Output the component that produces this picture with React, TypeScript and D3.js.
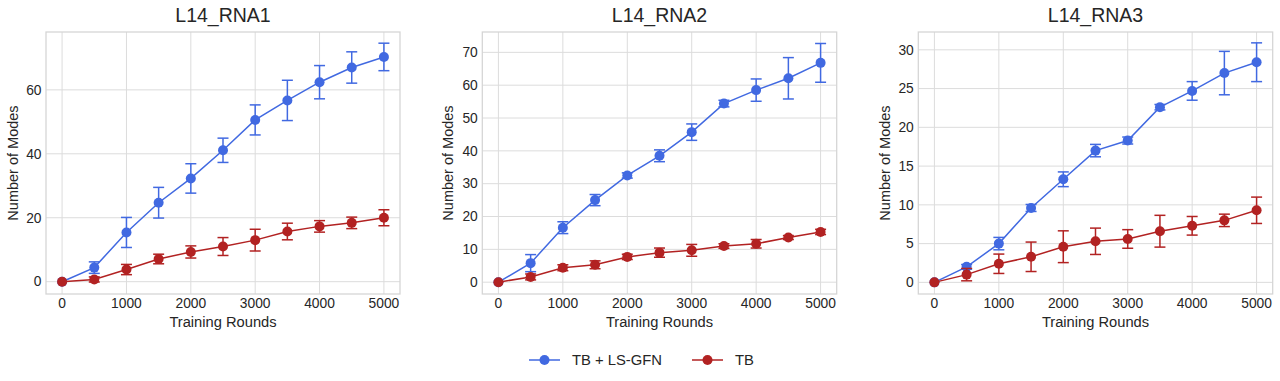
import React from "react";
import * as d3 from "d3";

const rounds = [0, 500, 1000, 1500, 2000, 2500, 3000, 3500, 4000, 4500, 5000];
const xTicks = [0, 1000, 2000, 3000, 4000, 5000];

const titles = ["L14_RNA1", "L14_RNA2", "L14_RNA3"];
const seriesNames = ["TB + LS-GFN", "TB"];
const seriesColors = ["#4169e1", "#b22222"];

// L14_RNA1
const rna1Ls = [0, 4.4, 15.4, 24.7, 32.3, 41.1, 50.6, 56.7, 62.4, 67.0, 70.3];
const rna1LsErr = [0, 1.8, 4.7, 4.8, 4.6, 3.8, 4.7, 6.3, 5.2, 4.9, 4.3];
const rna1Tb = [0, 0.7, 3.8, 7.1, 9.3, 11.0, 13.0, 15.7, 17.3, 18.4, 20.0];
const rna1TbErr = [0, 0.8, 1.6, 1.5, 1.9, 2.8, 3.4, 2.6, 1.8, 1.8, 2.5];
const rna1Ticks = [0, 20, 40, 60];

// L14_RNA2
const rna2Ls = [0, 5.8, 16.6, 25.0, 32.5, 38.5, 45.7, 54.4, 58.5, 62.1, 66.8];
const rna2LsErr = [0, 2.6, 1.8, 1.7, 0.8, 1.8, 2.5, 1.0, 3.4, 6.3, 5.9];
const rna2Tb = [0, 1.6, 4.4, 5.3, 7.7, 9.0, 9.7, 11.0, 11.7, 13.6, 15.3];
const rna2TbErr = [0, 0.9, 0.9, 1.2, 0.8, 1.4, 1.8, 0.7, 1.3, 0.6, 0.8];
const rna2Ticks = [0, 10, 20, 30, 40, 50, 60, 70];

// L14_RNA3
const rna3Ls = [0, 2.0, 5.0, 9.6, 13.3, 17.0, 18.3, 22.6, 24.7, 27.0, 28.4];
const rna3LsErr = [0, 0.3, 0.8, 0.45, 0.95, 0.8, 0.45, 0.35, 1.2, 2.8, 2.5];
const rna3Tb = [0, 1.0, 2.4, 3.3, 4.6, 5.3, 5.6, 6.6, 7.3, 8.0, 9.3];
const rna3TbErr = [0, 0.8, 1.25, 1.9, 2.05, 1.7, 1.2, 2.05, 1.2, 0.8, 1.7];
const rna3Ticks = [0, 5, 10, 15, 20, 25, 30];

const panels = [
  { title: titles[0], left: 46, right: 400, yDomain: [-3.85, 78.1], ticks: rna1Ticks, series: [[rna1Ls, rna1LsErr], [rna1Tb, rna1TbErr]], ylabelX: 18 },
  { title: titles[1], left: 482.3, right: 836.7, yDomain: [-3.6, 76.2], ticks: rna2Ticks, series: [[rna2Ls, rna2LsErr], [rna2Tb, rna2TbErr]], ylabelX: 453 },
  { title: titles[2], left: 918.3, right: 1272.7, yDomain: [-1.5, 32.3], ticks: rna3Ticks, series: [[rna3Ls, rna3LsErr], [rna3Tb, rna3TbErr]], ylabelX: 890 },
];

const TOP = 32;
const BOTTOM = 294;
const TEXT = "#262626";
const GRID = "#dcdcdc";
const FONT = "'Liberation Sans', Arial, sans-serif";

function Panel({ p }: { p: any }) {
  const x = d3.scaleLinear().domain([-250, 5250]).range([p.left, p.right]);
  const y = d3.scaleLinear().domain(p.yDomain).range([BOTTOM, TOP]);
  const line = d3
    .line<number>()
    .x((_, i) => x(rounds[i]))
    .y((d) => y(d));
  const cx = (p.left + p.right) / 2;
  return (
    <g>
      {xTicks.map((t) => (
        <line key={"gx" + t} x1={x(t)} x2={x(t)} y1={TOP} y2={BOTTOM} stroke={GRID} strokeWidth={1} />
      ))}
      {p.ticks.map((t: number) => (
        <line key={"gy" + t} x1={p.left} x2={p.right} y1={y(t)} y2={y(t)} stroke={GRID} strokeWidth={1} />
      ))}
      <rect x={p.left} y={TOP} width={p.right - p.left} height={BOTTOM - TOP} fill="none" stroke="#d4d4d4" strokeWidth={1.25} />
      {xTicks.map((t) => (
        <text key={"tx" + t} x={x(t)} y={308} textAnchor="middle" fontSize={13.8} fill={TEXT} fontFamily={FONT}>
          {t}
        </text>
      ))}
      {p.ticks.map((t: number) => (
        <text key={"ty" + t} x={p.left - 4.5} y={y(t) + 4.8} textAnchor="end" fontSize={13.8} fill={TEXT} fontFamily={FONT}>
          {t}
        </text>
      ))}
      <text x={cx} y={21.5} textAnchor="middle" fontSize={19.5} fill={TEXT} fontFamily={FONT}>
        {p.title}
      </text>
      <text x={cx} y={327} textAnchor="middle" fontSize={14.7} fill={TEXT} fontFamily={FONT}>
        Training Rounds
      </text>
      <text
        transform={`translate(${p.ylabelX},${(TOP + BOTTOM) / 2}) rotate(-90)`}
        textAnchor="middle"
        fontSize={14.5}
        fill={TEXT}
        fontFamily={FONT}
      >
        Number of Modes
      </text>
      {p.series.map((s: number[][], si: number) => {
        const [vals, errs] = s;
        const c = seriesColors[si];
        return (
          <g key={"s" + si}>
            {vals.map((v, i) =>
              errs[i] > 0 ? (
                <g key={"e" + i} stroke={c} strokeWidth={1.5}>
                  <line x1={x(rounds[i])} x2={x(rounds[i])} y1={y(v - errs[i])} y2={y(v + errs[i])} />
                  <line x1={x(rounds[i]) - 5.5} x2={x(rounds[i]) + 5.5} y1={y(v - errs[i])} y2={y(v - errs[i])} />
                  <line x1={x(rounds[i]) - 5.5} x2={x(rounds[i]) + 5.5} y1={y(v + errs[i])} y2={y(v + errs[i])} />
                </g>
              ) : null
            )}
            <path d={line(vals) || ""} fill="none" stroke={c} strokeWidth={1.5} />
            {vals.map((v, i) => (
              <circle key={"m" + i} cx={x(rounds[i])} cy={y(v)} r={5} fill={c} />
            ))}
          </g>
        );
      })}
    </g>
  );
}

export default function App() {
  const legendItems = [
    { x0: 529, name: seriesNames[0], color: seriesColors[0] },
    { x0: 692, name: seriesNames[1], color: seriesColors[1] },
  ];
  return (
    <svg width={1280} height={381} style={{ position: "absolute", left: 0, top: 0, background: "#fff" }}>
      <rect x={0} y={0} width={1280} height={381} fill="#fff" />
      {panels.map((p, i) => (
        <Panel key={i} p={p} />
      ))}
      {legendItems.map((it, i) => (
        <g key={"l" + i}>
          <line x1={it.x0} x2={it.x0 + 31} y1={360} y2={360} stroke={it.color} strokeWidth={1.5} />
          <circle cx={it.x0 + 15.5} cy={360} r={5} fill={it.color} />
          <text x={it.x0 + 43} y={365} fontSize={14.8} fill={TEXT} fontFamily={FONT}>
            {it.name}
          </text>
        </g>
      ))}
    </svg>
  );
}
